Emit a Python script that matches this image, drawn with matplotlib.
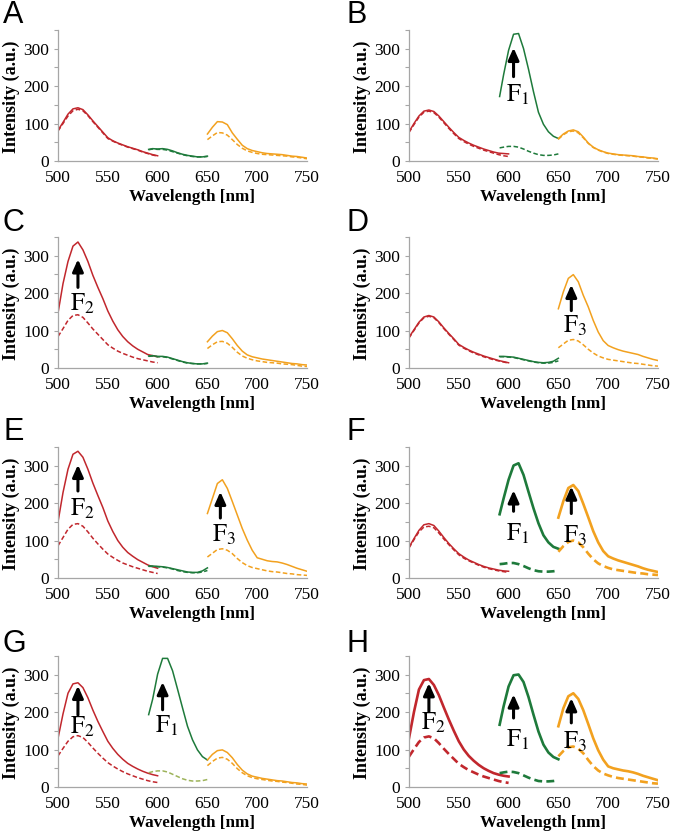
import matplotlib
matplotlib.use("Agg")
from matplotlib import pyplot as plt

plt.rcParams["font.family"] = ["Liberation Serif", "DejaVu Serif"]
plt.rcParams["mathtext.fontset"] = "stix"

# ---- wavelength grids (nm) ----
wl_red = [500, 505, 510, 515, 520, 525, 530, 535, 540, 545, 550,
          555, 560, 565, 570, 575, 580, 585, 590, 595, 600]
wl_green = [591, 595, 600, 605, 610, 615, 620, 625, 630, 635, 640, 645, 650]
wl_orange = [650, 655, 660, 665, 670, 675, 680, 685, 690, 695, 700,
             705, 710, 715, 720, 725, 730, 735, 740, 745, 750]

# ---- intensities (solid = after, dashed = before) ----
# Panel A
a_red = [82, 103, 125, 139, 142, 137, 123, 107, 92, 77, 62, 54, 48, 43, 38, 34, 30, 25, 21, 17, 14]
a_red_d = [80, 100, 120, 134, 138, 134, 121, 105, 90, 75, 60, 53, 47, 42, 37, 33, 29, 24, 20, 16, 13]
a_green = [31, 33, 32, 33, 31, 27, 22, 18, 15, 13, 11, 11, 13]
a_green_d = [30, 32, 31, 31, 29, 25, 21, 17, 14, 12, 11, 11, 12]
a_orange = [72, 90, 105, 104, 97, 75, 58, 42, 33, 28, 25, 22, 20, 19, 18, 17, 15, 13, 12, 10, 8]
a_orange_d = [57, 67, 76, 75, 69, 57, 44, 34, 27, 23, 20, 18, 17, 16, 15, 14, 13, 11, 10, 8, 6]

# Panel B
b_red = [78, 100, 120, 133, 136, 132, 120, 105, 90, 76, 63, 55, 48, 42, 37, 32, 28, 24, 21, 20, 19]
b_red_d = [76, 97, 117, 130, 133, 129, 117, 102, 87, 73, 60, 52, 45, 39, 34, 29, 25, 21, 17, 14, 12]
b_green = [172, 230, 295, 338, 340, 300, 245, 185, 130, 98, 78, 66, 60]
b_green_d = [35, 37, 39, 39, 37, 32, 26, 21, 17, 15, 15, 16, 19]
b_orange = [60, 72, 80, 83, 78, 64, 48, 37, 30, 25, 21, 19, 17, 16, 15, 14, 12, 11, 9, 8, 6]
b_orange_d = [58, 70, 78, 80, 75, 62, 47, 36, 29, 24, 20, 18, 16, 15, 14, 13, 11, 10, 8, 7, 5]

# Panel C
c_red = [147, 225, 284, 325, 336, 315, 284, 247, 215, 185, 152, 125, 102, 84, 70, 59, 50, 43, 36, 33, 30]
c_red_d = [84, 105, 127, 140, 142, 135, 120, 104, 90, 76, 62, 53, 45, 39, 34, 29, 25, 22, 19, 16, 14]
c_green = [32, 33, 31, 31, 29, 25, 21, 17, 14, 12, 11, 11, 13]
c_green_d = [31, 32, 30, 30, 28, 24, 20, 16, 13, 12, 11, 11, 12]
c_orange = [70, 85, 97, 100, 94, 78, 60, 45, 35, 30, 27, 24, 22, 20, 18, 16, 14, 12, 11, 9, 8]
c_orange_d = [52, 62, 70, 71, 66, 55, 42, 32, 26, 22, 19, 17, 15, 14, 13, 11, 10, 9, 7, 5, 4]

# Panel D
d_red = [82, 102, 122, 136, 140, 136, 123, 107, 92, 78, 63, 55, 48, 42, 37, 32, 28, 24, 20, 17, 14]
d_red_d = [80, 100, 120, 134, 138, 134, 121, 105, 90, 76, 61, 53, 46, 40, 35, 30, 26, 22, 19, 16, 13]
d_green = [31, 31, 30, 29, 26, 23, 20, 17, 15, 14, 15, 18, 26]
d_green_d = [30, 30, 29, 28, 25, 22, 19, 16, 14, 13, 13, 15, 19]
d_orange = [158, 203, 239, 249, 230, 194, 163, 127, 96, 73, 60, 54, 49, 45, 42, 39, 36, 31, 27, 23, 20]
d_orange_d = [54, 64, 74, 76, 72, 62, 50, 40, 32, 27, 23, 21, 19, 17, 15, 13, 12, 10, 8, 6, 5]

# Panel E
e_red = [150, 228, 290, 330, 338, 322, 290, 253, 220, 188, 152, 124, 100, 82, 68, 58, 49, 42, 35, 30, 26]
e_red_d = [86, 108, 130, 143, 145, 138, 123, 106, 91, 77, 64, 55, 47, 40, 35, 30, 26, 22, 18, 15, 12]
e_green = [32, 32, 31, 30, 28, 25, 22, 19, 16, 15, 15, 19, 27]
e_green_d = [31, 31, 30, 29, 27, 24, 20, 17, 15, 14, 14, 16, 20]
e_orange = [172, 212, 252, 262, 239, 204, 168, 132, 101, 74, 54, 50, 46, 44, 43, 40, 36, 31, 26, 22, 18]
e_orange_d = [56, 66, 76, 78, 74, 65, 52, 41, 33, 28, 25, 22, 19, 17, 16, 14, 12, 11, 9, 8, 7]

# Panel F
f_red = [82, 105, 127, 142, 145, 140, 125, 108, 92, 78, 65, 56, 48, 42, 36, 31, 27, 24, 21, 19, 18]
f_red_d = [80, 102, 123, 136, 138, 134, 120, 104, 89, 75, 62, 53, 46, 40, 34, 29, 25, 22, 19, 17, 15]
f_green = [170, 212, 262, 300, 306, 275, 230, 186, 146, 114, 95, 83, 78]
f_green_d = [37, 38, 40, 40, 37, 32, 26, 21, 18, 17, 17, 18, 20]
f_orange = [161, 205, 240, 248, 232, 198, 162, 125, 95, 72, 58, 52, 47, 43, 39, 35, 31, 26, 22, 19, 16]
f_orange_d = [70, 85, 96, 100, 95, 82, 65, 50, 39, 32, 27, 23, 21, 19, 17, 15, 13, 12, 10, 9, 8]

# Panel G
g_red = [130, 195, 250, 275, 278, 265, 238, 205, 175, 148, 122, 103, 87, 74, 63, 55, 48, 42, 37, 33, 30]
g_red_d = [83, 103, 122, 134, 137, 132, 119, 104, 90, 77, 65, 56, 48, 41, 35, 30, 25, 21, 17, 14, 12]
g_green = [193, 234, 301, 343, 343, 310, 261, 211, 162, 126, 99, 81, 72]
g_green_d = [38, 41, 43, 43, 40, 34, 28, 22, 18, 16, 16, 17, 20]
g_orange = [72, 87, 97, 99, 92, 78, 60, 45, 35, 29, 26, 23, 21, 19, 17, 16, 14, 12, 11, 9, 8]
g_orange_d = [57, 68, 77, 79, 74, 63, 49, 38, 30, 25, 22, 20, 18, 16, 15, 13, 12, 10, 8, 7, 5]

# Panel H
h_red = [130, 200, 260, 285, 288, 272, 245, 212, 180, 150, 122, 100, 83, 70, 59, 50, 43, 37, 33, 30, 28]
h_red_d = [81, 101, 120, 132, 135, 130, 117, 102, 88, 75, 62, 53, 45, 39, 33, 28, 24, 20, 16, 13, 11]
h_green = [166, 215, 268, 298, 300, 280, 240, 193, 148, 113, 92, 80, 74]
h_green_d = [37, 39, 41, 40, 37, 31, 25, 20, 16, 15, 15, 16, 18]
h_orange = [162, 210, 242, 250, 235, 205, 168, 130, 98, 73, 55, 50, 47, 44, 42, 39, 35, 30, 26, 22, 18]
h_orange_d = [82, 96, 106, 108, 102, 90, 72, 56, 44, 36, 31, 27, 24, 22, 20, 18, 16, 14, 12, 10, 9]

panel_letters = ["A", "B", "C", "D", "E", "F", "G", "H"]
panel_data = [
  (a_red, a_red_d, a_green, a_green_d, a_orange, a_orange_d),
  (b_red, b_red_d, b_green, b_green_d, b_orange, b_orange_d),
  (c_red, c_red_d, c_green, c_green_d, c_orange, c_orange_d),
  (d_red, d_red_d, d_green, d_green_d, d_orange, d_orange_d),
  (e_red, e_red_d, e_green, e_green_d, e_orange, e_orange_d),
  (f_red, f_red_d, f_green, f_green_d, f_orange, f_orange_d),
  (g_red, g_red_d, g_green, g_green_d, g_orange, g_orange_d),
  (h_red, h_red_d, h_green, h_green_d, h_orange, h_orange_d),
]

# arrows: (x, y_tail, y_head, subscript, y_label)
panel_arrows = [
  [],
  [(605, 225, 302, "1", 176)],
  [(520, 215, 290, "2", 171)],
  [(663, 153, 222, "3", 113)],
  [(520, 232, 302, "2", 185), (663, 160, 230, "3", 115)],
  [(605, 178, 234, "1", 118), (663, 172, 244, "3", 112)],
  [(520, 192, 270, "2", 161), (605, 206, 280, "1", 163)],
  [(520, 201, 277, "2", 171), (605, 184, 247, "1", 126), (663, 171, 237, "3", 121)],
]

# line widths (red, green, orange) per panel
thin = 1.1
thick = 1.9
panel_lw = [
  (thin, thin, thin), (thin, thin, thin), (thin, thin, thin), (thin, thin, thin),
  (thin, thin, thin), (thin, thick, thick), (thin, thin, thin), (thick, thick, thick),
]

red = "#C1272D"
green = "#1E7A3B"
green_light = "#9DB35A"
orange = "#F2A11F"
grey = "#A6A6A6"
dash = (0, (3, 1.6))

# Layout (figure fractions)
lefts = [0.0861, 0.6068]
bottoms = [0.8074, 0.5598, 0.3086, 0.0586]
width = 0.3694
height = 0.157
letter_x = [3, 347]              # pixel left edges
letter_y = [15, 223, 432, 644]   # pixel centres from top

fig = plt.figure(figsize=(6.74, 8.36), dpi=100)

for k in range(8):
  row = k // 2
  col = k % 2
  ax = fig.add_axes([lefts[col], bottoms[row], width, height])
  r, r_d, g, g_d, o, o_d = panel_data[k]
  lw_r, lw_g, lw_o = panel_lw[k]
  green_d_col = green_light if panel_letters[k] == "G" else green

  ax.plot(wl_red, r_d, color=red, lw=lw_r, ls=dash)
  ax.plot(wl_red, r, color=red, lw=lw_r)
  ax.plot(wl_green, g_d, color=green_d_col, lw=lw_g, ls=dash)
  ax.plot(wl_green, g, color=green, lw=lw_g)
  ax.plot(wl_orange, o_d, color=orange, lw=lw_o, ls=dash)
  ax.plot(wl_orange, o, color=orange, lw=lw_o)

  for (xa, y0, y1, sub, yl) in panel_arrows[k]:
    ax.annotate("", xy=(xa, y1), xytext=(xa, y0),
                arrowprops=dict(arrowstyle="-|>,head_length=0.36,head_width=0.16",
                                mutation_scale=20, lw=2.2, color="black",
                                shrinkA=0, shrinkB=0))
    ax.text(xa + 4, yl, r"$\mathrm{F}_{" + sub + "}$", fontsize=18,
            ha="center", va="center")

  ax.set_xlim(500, 750)
  ax.set_ylim(0, 350)
  ax.set_xticks([500, 550, 600, 650, 700, 750])
  ax.set_yticks([0, 100, 200, 300])
  ax.set_yticks([50, 150, 250, 350], minor=True)
  ax.tick_params(axis="x", length=0, pad=6.5, labelsize=12.5)
  ax.tick_params(axis="y", which="both", length=3, width=0.8, color=grey,
                 pad=3.5, labelsize=12.5)
  for s in ["top", "right"]:
    ax.spines[s].set_visible(False)
  for s in ["left", "bottom"]:
    ax.spines[s].set_color(grey)
    ax.spines[s].set_linewidth(0.9)

  ax.set_xlabel("Wavelength [nm]", fontsize=12.3, fontweight="bold")
  ax.xaxis.set_label_coords(0.54, -0.215)
  ax.set_ylabel("Intensity (a.u.)", fontsize=13, fontweight="bold")
  ax.yaxis.set_label_coords(-0.153, 0.49)

  fig.text(letter_x[col] / 674.0, 1 - letter_y[row] / 836.0, panel_letters[k],
           family="Liberation Sans", fontsize=22, ha="left", va="center")

fig.savefig("out.png", dpi=100)
